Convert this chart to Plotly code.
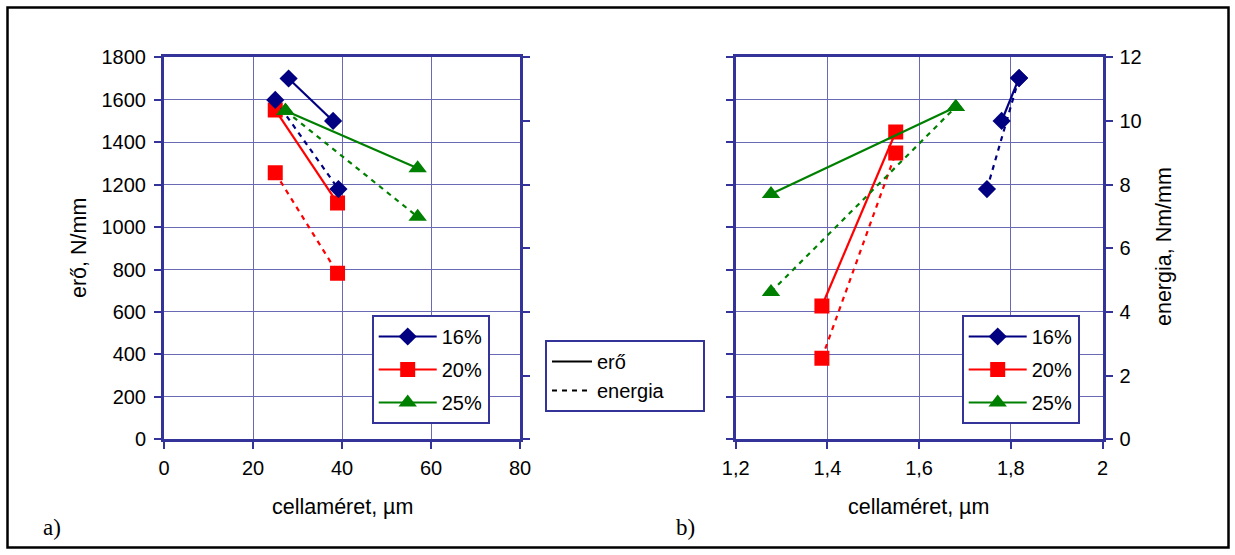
import plotly.graph_objects as go

W, H = 1235, 555

# ---------------- data ----------------
series_names = ["16%", "20%", "25%"]
colors = ["#000080", "#FF0000", "#008000"]
symbols = ["diamond", "square", "triangle-up"]
marker_sizes = [14, 15, 16]

# chart a) : cell size (µm) vs force (N/mm) and energy (Nm/mm)
a_force_x = [[28, 38], [25, 39], [27.3, 57]]
a_force_y = [[1700, 1500], [1552, 1113], [1548, 1277]]
a_energy_x = [[25, 39.2], [25, 39], [27.3, 57]]
a_energy_y = [[10.66, 7.86], [8.37, 5.22], [10.32, 6.99]]

# chart b)
b_force_x = [[1.78, 1.818], [1.388, 1.549], [1.277, 1.68]]
b_force_y = [[1500, 1702], [628, 1448], [1156, 1566]]
b_energy_x = [[1.748, 1.818], [1.388, 1.549], [1.277, 1.68]]
b_energy_y = [[7.86, 11.35], [2.55, 8.99], [4.63, 10.44]]

a_xticks = [0, 20, 40, 60, 80]
b_xticks = [1.2, 1.4, 1.6, 1.8, 2.0]
b_xticklabels = ["1,2", "1,4", "1,6", "1,8", "2"]
force_ticks = [0, 200, 400, 600, 800, 1000, 1200, 1400, 1600, 1800]
energy_ticks = [0, 2, 4, 6, 8, 10, 12]

style_names = ["erő", "energia"]

# ---------------- figure ----------------
AX = "#333399"
GRID = "#6a6ab4"
FONT = "Liberation Sans, Arial, sans-serif"
DASH = "5px,5px"
PAD = "\u00a0" * 6  # widens the line-style legend box

fig = go.Figure()

def px_x(p):
    return p / W

def px_y(p):
    return 1 - p / H

for i, name in enumerate(series_names):
    fig.add_trace(go.Scatter(
        x=a_energy_x[i], y=a_energy_y[i], xaxis="x", yaxis="y2",
        mode="lines+markers", showlegend=False,
        line=dict(color=colors[i], width=2.2, dash=DASH),
        marker=dict(symbol=symbols[i], size=marker_sizes[i], color=colors[i]),
    ))
    fig.add_trace(go.Scatter(
        x=a_force_x[i], y=a_force_y[i], xaxis="x", yaxis="y",
        mode="lines+markers", name=name, legend="legend", legendgroup="a" + name,
        line=dict(color=colors[i], width=2.2),
        marker=dict(symbol=symbols[i], size=marker_sizes[i], color=colors[i]),
    ))
    fig.add_trace(go.Scatter(
        x=b_energy_x[i], y=b_energy_y[i], xaxis="x2", yaxis="y4",
        mode="lines+markers", showlegend=False,
        line=dict(color=colors[i], width=2.2, dash=DASH),
        marker=dict(symbol=symbols[i], size=marker_sizes[i], color=colors[i]),
    ))
    fig.add_trace(go.Scatter(
        x=b_force_x[i], y=b_force_y[i], xaxis="x2", yaxis="y3",
        mode="lines+markers", name=name, legend="legend2", legendgroup="b" + name,
        line=dict(color=colors[i], width=2.2),
        marker=dict(symbol=symbols[i], size=marker_sizes[i], color=colors[i]),
    ))

for j, sname in enumerate(style_names):
    fig.add_trace(go.Scatter(
        x=[None], y=[None], xaxis="x", yaxis="y", mode="lines",
        name=sname + (PAD if j == 1 else ""),
        legend="legend3", legendgroup="s" + sname,
        line=dict(color="black", width=1.8, dash=None if j == 0 else DASH),
    ))

dom_a = [px_x(164), px_x(520)]
dom_b = [px_x(735.7), px_x(1102.5)]
dom_y = [px_y(439.3), px_y(57.3)]

common_axis = dict(
    showline=True, linecolor=AX, linewidth=3,
    ticks="outside", tickcolor=AX, tickwidth=2, ticklen=7,
    tickfont=dict(family=FONT, size=20, color="black"),
    zeroline=False, automargin=False,
)

leg_common = dict(xanchor="left", yanchor="top", bgcolor="white",
                  bordercolor=AX, borderwidth=2, font=dict(family=FONT, size=20))

fig.update_layout(
    width=W, height=H,
    margin=dict(l=0, r=0, t=0, b=0, autoexpand=False),
    paper_bgcolor="white", plot_bgcolor="white",
    font=dict(family=FONT, size=20, color="black"),
    xaxis=dict(domain=dom_a, range=[0, 80], tickvals=a_xticks, showgrid=True,
               gridcolor=GRID, gridwidth=1, anchor="y", mirror=True,
               ticklabelstandoff=2, **common_axis),
    yaxis=dict(domain=dom_y, range=[0, 1800], tickvals=force_ticks, showgrid=True,
               gridcolor=GRID, gridwidth=1, anchor="x", ticklabelstandoff=4,
               **common_axis),
    yaxis2=dict(overlaying="y", side="right", anchor="x", range=[0, 12],
                tickvals=energy_ticks, showgrid=False, showticklabels=False,
                **common_axis),
    xaxis2=dict(domain=dom_b, range=[1.2, 2.0], tickvals=b_xticks,
                ticktext=b_xticklabels, showgrid=True, gridcolor=GRID,
                gridwidth=1, anchor="y3", mirror=True, ticklabelstandoff=2,
                **common_axis),
    yaxis3=dict(domain=dom_y, range=[0, 1800], tickvals=force_ticks, showgrid=True,
                gridcolor=GRID, gridwidth=1, anchor="x2", showticklabels=False,
                **common_axis),
    yaxis4=dict(overlaying="y3", side="right", anchor="x2", range=[0, 12],
                tickvals=energy_ticks, showgrid=False, ticklabelstandoff=3,
                **common_axis),
    legend=dict(x=px_x(371.7), y=px_y(315), itemwidth=58, tracegroupgap=4,
                **leg_common),
    legend2=dict(x=px_x(961.7), y=px_y(315), itemwidth=58, tracegroupgap=4,
                 **leg_common),
    legend3=dict(x=px_x(545), y=px_y(340), itemwidth=40, tracegroupgap=0,
                 **leg_common),
    showlegend=True,
)

annotations = [
    dict(text="cellaméret, µm", x=px_x(342), y=px_y(507)),
    dict(text="cellaméret, µm", x=px_x(918.7), y=px_y(507)),
    dict(text="erő, N/mm", x=px_x(79), y=px_y(248), textangle=-90),
    dict(text="energia, Nm/mm", x=px_x(1164), y=px_y(247), textangle=-90),
]
for a in annotations:
    a.update(xref="paper", yref="paper", showarrow=False, xanchor="center",
             yanchor="middle", font=dict(family=FONT, size=21.5, color="black"))
    fig.add_annotation(**a)

for lbl, xp in [("a)", 52), ("b)", 685)]:
    fig.add_annotation(text=lbl, x=px_x(xp), y=px_y(527), xref="paper", yref="paper",
                       showarrow=False, xanchor="center", yanchor="middle",
                       font=dict(family="Liberation Serif, Times New Roman, serif",
                                 size=23, color="black"))

fig.add_shape(type="rect", xref="paper", yref="paper",
              x0=px_x(7.5), x1=px_x(1228.5), y0=px_y(547.5), y1=px_y(7.5),
              line=dict(color="black", width=2.5), layer="above")

fig.write_html(
    "out.html",
    config={"displayModeBar": False},
    post_script="document.body.style.margin='0';document.body.style.overflow='hidden';",
)
